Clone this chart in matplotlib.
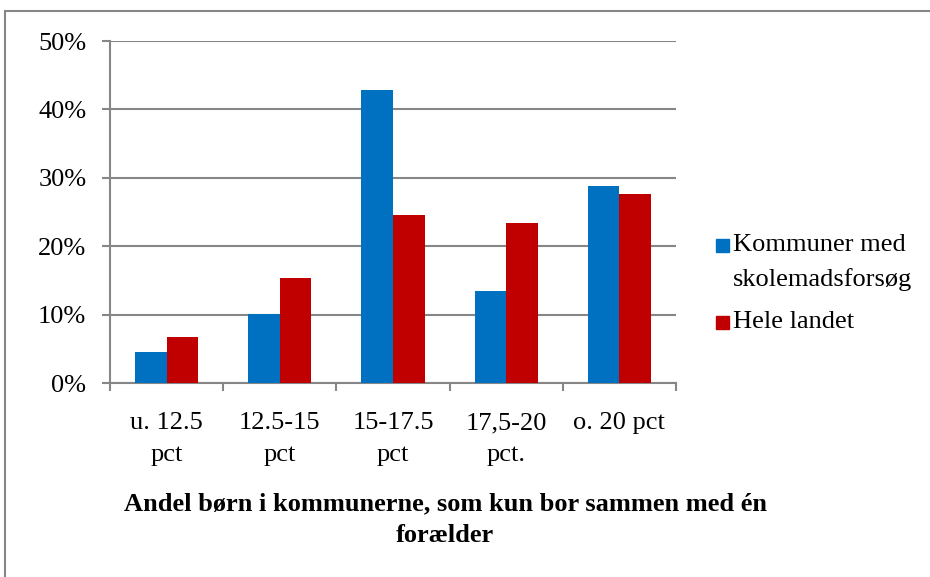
import numpy as np
import matplotlib
matplotlib.use("Agg")
import matplotlib.pyplot as plt
from matplotlib.patches import Rectangle
from matplotlib.ticker import PercentFormatter
from matplotlib.transforms import blended_transform_factory

categories = ["u. 12.5\npct", "12.5-15\npct", "15-17.5\npct", "17,5-20\npct.", "o. 20 pct"]
kommuner = [4.6, 10.1, 42.9, 13.4, 28.8]
hele_landet = [6.7, 15.4, 24.6, 23.4, 27.7]
series_names = [["Kommuner med", "skolemadsforsøg"], ["Hele landet"]]
xlabel = "Andel børn i kommunerne, som kun bor sammen med én\nforælder"

BLUE = "#0070c0"
RED = "#c00000"
GRAY = "#868686"
FS = 19

plt.rcParams['font.family'] = ['Liberation Serif', 'DejaVu Serif']

fig = plt.figure(figsize=(9.3, 5.77), dpi=100)
ax = fig.add_axes([110 / 930, 1 - 383 / 577, 566 / 930, 342 / 577])

x = np.arange(len(categories))
w = 0.28
ax.bar(x - w / 2, kommuner, w, color=BLUE, zorder=3)
ax.bar(x + w / 2, hele_landet, w, color=RED, zorder=3)

ax.set_xlim(-0.5, len(categories) - 0.5)
ax.set_ylim(0, 50)
ax.set_yticks(range(0, 51, 10))
ax.yaxis.set_major_formatter(PercentFormatter(decimals=0))
ax.yaxis.grid(True, color=GRAY, linewidth=1.5, zorder=0)

# category labels: one text per line so the line gap matches the original
ax.set_xticks([])
ax.set_xticks(np.arange(-0.5, len(categories)), minor=True)
trans = blended_transform_factory(ax.transData, ax.transAxes)
for xi, label in zip(x, categories):
    for j, line in enumerate(label.split("\n")):
        ax.text(xi, -0.117 - j * 0.0935, line, transform=trans, ha='center', va='center',
                fontsize=FS)
ax.tick_params(axis='x', which='minor', length=6, width=1.5, color=GRAY, direction='out')
ax.tick_params(axis='y', length=6, width=1.5, color=GRAY, labelsize=FS, pad=11)

for s in ["top", "right"]:
    ax.spines[s].set_visible(False)
for s in ["left", "bottom"]:
    ax.spines[s].set_color(GRAY)
    ax.spines[s].set_linewidth(1.5)

for j, line in enumerate(xlabel.split("\n")):
    fig.text(445 / 930, 1 - (504 + j * 32) / 577, line, ha='center', va='center',
             fontsize=FS, fontweight='bold')

# legend drawn by hand so the key sits next to the first line of the label
legend_rows = [245, 322]
for color, lines, y0 in zip([BLUE, RED], series_names, legend_rows):
    fig.patches.append(Rectangle((716 / 930, 1 - (y0 + 7) / 577), 13 / 930, 13 / 577,
                                 transform=fig.transFigure, color=color))
    for i, line in enumerate(lines):
        fig.text(733 / 930, 1 - (y0 + i * 35) / 577, line, ha='left', va='center', fontsize=FS)

fig.patches.append(Rectangle((5 / 930, -0.1), 1.2, 1 - 11 / 577 + 0.1, transform=fig.transFigure,
                             fill=False, edgecolor=GRAY, linewidth=1.5))

fig.savefig("out.png")
